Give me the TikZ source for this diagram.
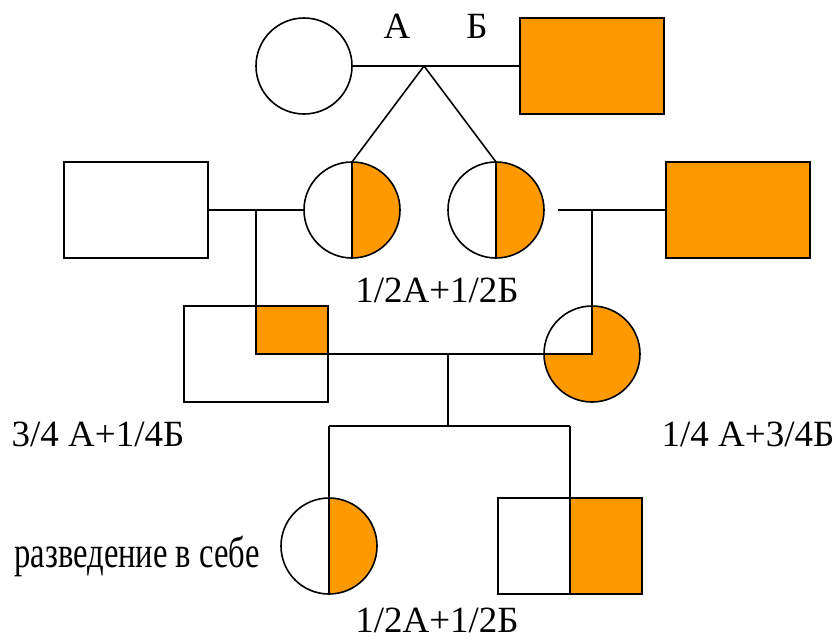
\documentclass[tikz,border=0pt]{standalone}
\usepackage{fontspec}
\setmainfont{Liberation Serif}
\definecolor{pedorange}{RGB}{255,153,0}
\tikzset{
  ln/.style={line width=1.6pt, black},
  fem/.style={circle, draw, ln, fill=white, minimum size=96pt, inner sep=0pt, outer sep=0pt},
  mal/.style={rectangle, draw, ln, fill=white, minimum width=144pt, minimum height=96pt, inner sep=0pt, outer sep=0pt},
  full/.style={fill=pedorange},
  righthalf/.style={path picture={
      \fill[pedorange] (path picture bounding box.north) rectangle (path picture bounding box.south east);
      \draw[ln] (path picture bounding box.north) -- (path picture bounding box.south);}},
  threeq/.style={fill=pedorange, path picture={
      \fill[white] (path picture bounding box.north west) rectangle (path picture bounding box.center);
      \draw[ln] (path picture bounding box.north) -- (path picture bounding box.center) -- (path picture bounding box.west);}},
  topright/.style={path picture={
      \fill[pedorange] (path picture bounding box.north) rectangle (path picture bounding box.east);
      \draw[ln] (path picture bounding box.north) -- (path picture bounding box.center) -- (path picture bounding box.east);}},
  lbl/.style={font=\fontsize{37}{44}\selectfont, inner sep=0pt, anchor=base},
  smalllbl/.style={font=\fontsize{32.6}{40}\selectfont, inner sep=0pt, anchor=base},
}
\begin{document}
\begin{tikzpicture}[x=1pt,y=-1pt]
\useasboundingbox (0,0) rectangle (837,641);
% generation 1
\node[fem] (gm) at (304,66) {};
\node[mal, full] (gf) at (592,66) {};
\coordinate (apex) at (424,66);
\draw[ln] (gm) -- (gf);
\node[lbl] (la) at (397,38) {А};
\node[lbl] (lb) at (477,38) {Б};
% generation 2
\node[fem, righthalf] (d1) at (352,210) {};
\node[fem, righthalf] (d2) at (496,210) {};
\draw[ln] (apex) -- (d1.north);
\draw[ln] (apex) -- (d2.north);
\node[mal] (h1) at (136,210) {};
\node[mal, full] (h2) at (738,210) {};
\draw[ln] (h1) -- (d1);
\coordinate (rs) at (558,210);
\draw[ln] (rs) -- (h2.west);
\node[lbl] (l12a) at (437,302) {1/2А+1/2Б};
% generation 3
\node[mal, topright] (s3) at (256,354) {};
\node[fem, threeq] (c3) at (592,354) {};
\coordinate (j1) at (256,210);
\coordinate (j2) at (592,210);
\draw[ln] (j1) -- (s3.center);
\draw[ln] (j2) -- (c3.center);
\draw[ln] (s3.center) -- (c3.center);
\node[lbl] (l34) at (98,446) {3/4 А+1/4Б};
\node[lbl] (l14) at (748,446) {1/4 А+3/4Б};
% generation 4
\coordinate (m) at (448,354);
\coordinate (mb) at (448,426);
\coordinate (b1) at (329,426);
\coordinate (b2) at (570,426);
\draw[ln] (m) -- (mb);
\draw[ln] (b1) -- (b2);
\node[fem, righthalf] (c4) at (329,546) {};
\node[mal, righthalf] (s4) at (570,546) {};
\draw[ln] (b1) -- (c4.north);
\draw[ln] (b2) -- (s4.north);
\node[smalllbl] (lself) at (137,567) {\scalebox{1}[1.35]{разведение в себе}};
\node[lbl] (l12b) at (437,632) {1/2А+1/2Б};
\end{tikzpicture}
\end{document}
